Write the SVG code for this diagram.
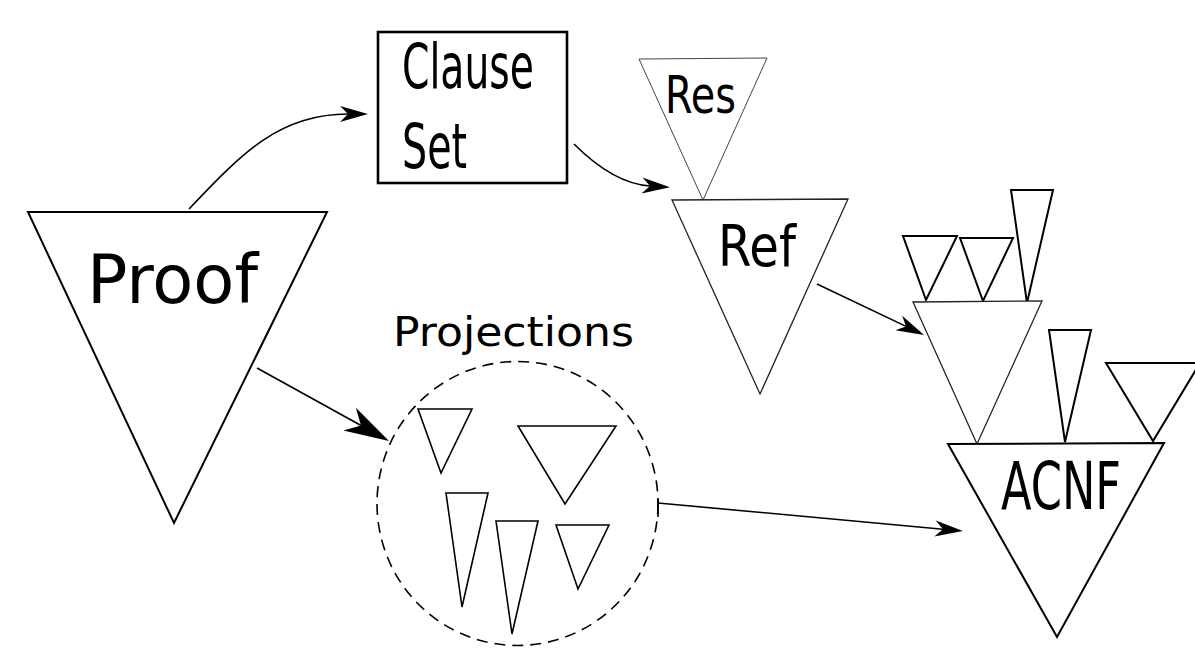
<svg xmlns="http://www.w3.org/2000/svg" width="1195" height="657" viewBox="0 0 1195 657">
<style>
  .tri { fill: #fff; stroke: #000; stroke-width: 2; stroke-linejoin: miter; }
  .thin { stroke-width: 1.3; stroke: #222; }
  .hair { stroke-width: 1; stroke: #444; }
  .ptri { fill: #fff; stroke: #000; stroke-width: 1.6; }
  .lbl { font-family: "DejaVu Sans", "Liberation Sans", sans-serif; fill: #000; }
  .conn { fill: none; stroke: #000; stroke-width: 1.6; }
  .dash { fill: none; stroke: #000; stroke-width: 1.6; stroke-dasharray: 11 7; }
</style>
<defs>
  <marker id="arrS" markerUnits="userSpaceOnUse" orient="auto" refX="-20" refY="0" markerWidth="40" markerHeight="40" overflow="visible">
    <path d="M0,0 L-28,-8 L-20,0 L-28,8 Z" fill="#000"/>
  </marker>
  <marker id="arrL" markerUnits="userSpaceOnUse" orient="auto" refX="-32" refY="0" markerWidth="60" markerHeight="60" overflow="visible">
    <path d="M0,0 L-45,-13 L-32,0 L-45,13 Z" fill="#000"/>
  </marker>
</defs>
<rect width="1195" height="657" fill="#fff"/>

<g id="proof">
  <polygon class="tri" points="28,212 327,212 174,523"/>
  <text class="lbl" x="87" y="303" font-size="68" textLength="171" lengthAdjust="spacingAndGlyphs">Proof</text>
</g>

<g id="clause-set">
  <rect x="378" y="32" width="189" height="151" fill="#fff" stroke="#000" stroke-width="2.6"/>
  <text class="lbl" x="402" y="88" font-size="63" textLength="132" lengthAdjust="spacingAndGlyphs">Clause</text>
  <text class="lbl" x="402" y="168" font-size="62" textLength="65" lengthAdjust="spacingAndGlyphs">Set</text>
</g>

<g id="res">
  <polygon class="tri hair" points="639,59 767,58 703,200"/>
  <text class="lbl" x="665" y="113" font-size="51" textLength="71" lengthAdjust="spacingAndGlyphs">Res</text>
</g>

<g id="ref">
  <polygon class="tri thin" points="672,200 848,199 760,394"/>
  <text class="lbl" x="718" y="266" font-size="57" textLength="78" lengthAdjust="spacingAndGlyphs">Ref</text>
</g>

<g id="projections">
  <text class="lbl" x="393" y="346" font-size="40" textLength="241" lengthAdjust="spacingAndGlyphs">Projections</text>
  <ellipse class="dash" cx="517.5" cy="503.5" rx="140.5" ry="142"/>
  <polygon class="ptri" points="418,409 472,409 441,473"/>
  <polygon class="ptri" points="518,426 616,426 565,504"/>
  <polygon class="ptri" points="446,493 488,493 462,607"/>
  <polygon class="ptri" points="496,521 538,521 512,634"/>
  <polygon class="ptri" points="556,525 609,525 578,589"/>
</g>

<g id="middle-tree">
  <polygon class="tri" points="903,236 957,236 926,300"/>
  <polygon class="tri" points="960,238 1013,238 983,301"/>
  <polygon class="tri" points="1011,190 1053,190 1027,303"/>
  <polygon class="tri thin" points="913,302 1042,301 977,444"/>
  <polygon class="tri" points="1049,330 1091,330 1065,442"/>
  <polygon class="tri" points="1106,363 1200,363 1153,441"/>
</g>

<g id="acnf">
  <polygon class="tri" points="948,444 1164,443 1057,637"/>
  <text class="lbl" x="1001" y="509" font-size="66" textLength="120" lengthAdjust="spacingAndGlyphs">ACNF</text>
</g>

<g id="connectors">
  <path class="conn" d="M189,209 C243,152 280,114 348,114" marker-end="url(#arrS)"/>
  <path class="conn" d="M574,144 C595,165 620,184 650,186" marker-end="url(#arrS)"/>
  <path class="conn" d="M257,368 L361,425.5" stroke-width="2.6" marker-end="url(#arrL)"/>
  <path class="conn" d="M817,284 L906,326.4" stroke-width="1.8" marker-end="url(#arrS)"/>
  <path class="conn" d="M658,503 L943,529.2" marker-end="url(#arrS)"/>
  <path class="conn" d="M658,498 L658,517" stroke-width="1.4"/>
</g>
</svg>
